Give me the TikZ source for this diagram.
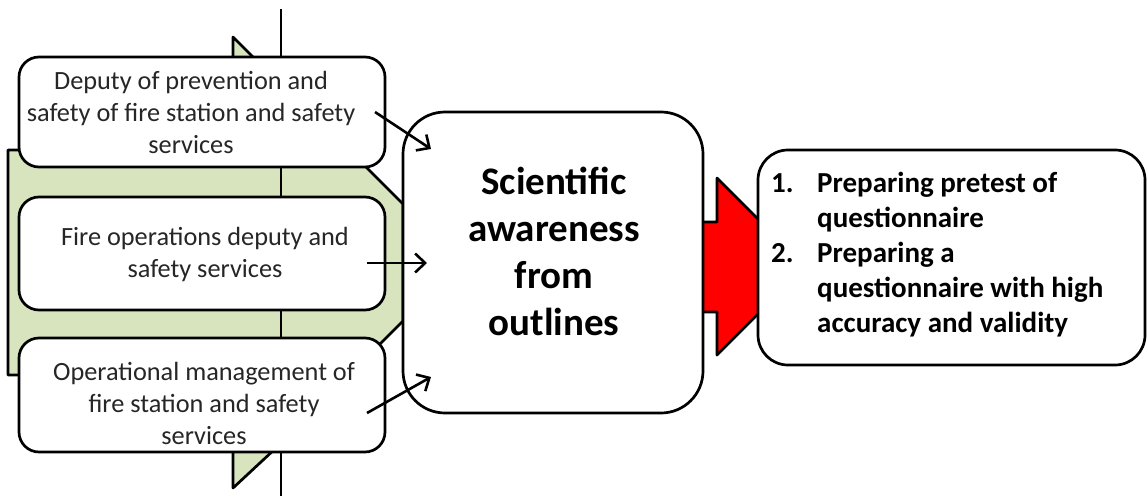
\documentclass[tikz,border=0pt]{standalone}
\usepackage{fontspec}
\setmainfont{Carlito}
\usetikzlibrary{arrows.meta,calc}
\definecolor{greenfill}{HTML}{D7E4BD}
\definecolor{textgray}{HTML}{262626}
\definecolor{arrowred}{HTML}{FF0000}
\begin{document}
\begin{tikzpicture}[x=1pt,y=-1pt,
  outline/.style={line width=2.7pt, draw=black, line join=round},
  sidebox/.style={outline, fill=white, rounded corners=20pt, minimum width=366pt, inner sep=0pt},
  sidetext/.style={align=center, text=textgray, font=\fontsize{26.3}{32}\selectfont, inner sep=0pt},
  bigbox/.style={outline, fill=white, inner sep=0pt},
  link/.style={line width=2.6pt, -{Straight Barb[length=10pt,width=19pt,line width=2.6pt]}},
]
\useasboundingbox (0,0) rectangle (1147,495);

% green background shape
\draw[outline, fill=greenfill] (8,150) -- (349,150) -- (403,204) -- (403,321) -- (349,375) -- (8,375) -- cycle;
% small green triangles
\draw[outline, fill=greenfill] (233,37) -- (256,60) -- (233,60) -- cycle;
\draw[outline, fill=greenfill] (233,488) -- (276,448) -- (233,448) -- cycle;
% vertical line
\coordinate (vtop) at (281,9);
\coordinate (vbot) at (281,496);
\draw[line width=2.8pt] (vtop) -- (vbot);

% red arrow
\draw[outline, fill=arrowred] (700,222) -- (717,222) -- (717,178) -- (805.5,266.5) -- (717,355) -- (717,312) -- (700,312) -- cycle;

% left boxes
\node[sidebox, minimum height=110pt] (b1) at (202,112) {};
\node[sidebox, minimum height=113pt] (b2) at (202,253.5) {};
\node[sidebox, minimum height=114pt] (b3) at (202,395) {};
\node[sidetext] (t1) at (191,112) {Deputy of prevention and\\safety of fire station and safety\\services};
\node[sidetext] (t2) at (205,254) {Fire operations deputy and\\safety services};
\node[sidetext] (t3) at (204,403) {Operational management of\\fire station and safety\\services};

% central box
\node[bigbox, rounded corners=42pt, minimum width=300pt, minimum height=301pt] (c) at (553,262.5) {};
\node[align=center, inner sep=0pt, font=\bfseries\fontsize{39}{47}\selectfont] (ct) at (554,251) {Scientific\\awareness\\from\\outlines};

% right box
\node[bigbox, rounded corners=30pt, minimum width=387pt, minimum height=215pt] (r) at (951.5,257.5) {};
\node[align=left, inner sep=0pt, anchor=west, font=\bfseries\fontsize{29}{35}\selectfont] (rt) at (771,255)
  {\makebox[46pt][l]{1.}Preparing pretest of\\
   \hspace*{46pt}questionnaire\\
   \makebox[46pt][l]{2.}Preparing a\\
   \hspace*{46pt}questionnaire with high\\
   \hspace*{46pt}accuracy and validity};

% connectors
\coordinate (a1s) at (375,112);
\coordinate (a1e) at (431,149);
\coordinate (a2s) at (367,263);
\coordinate (a2e) at (427,263);
\coordinate (a3s) at (367,413);
\coordinate (a3e) at (431,377);
\draw[link] (a1s) -- (a1e);
\draw[link] (a2s) -- (a2e);
\draw[link] (a3s) -- (a3e);
\end{tikzpicture}
\end{document}
